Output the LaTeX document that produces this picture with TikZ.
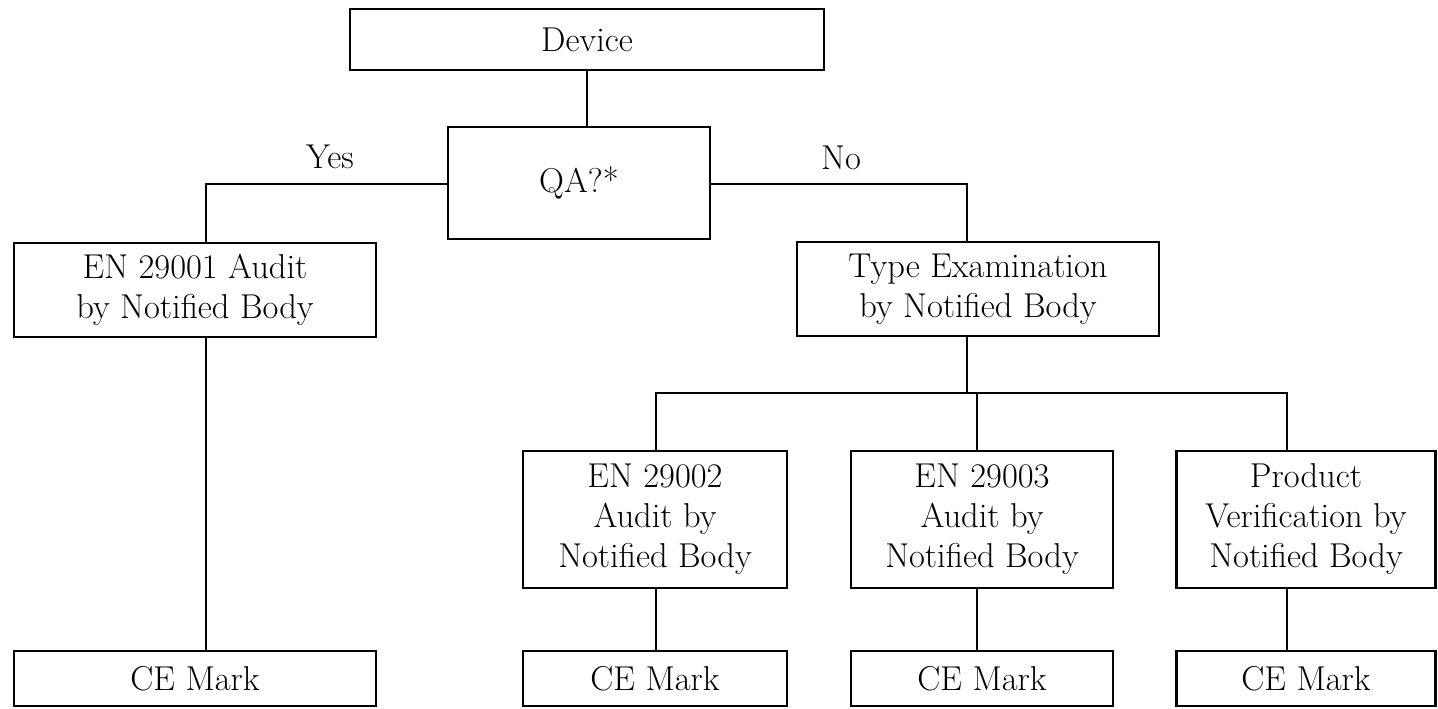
\documentclass[tikz,border=0pt]{standalone}
\usepackage{fontspec}
\begin{document}
\begin{tikzpicture}[x=1pt,y=-1pt,
  box/.style={draw, line width=2.6pt, inner sep=0pt, align=center,
    font=\fontsize{34.5}{40}\selectfont},
  conn/.style={line width=2.6pt},
  lbl/.style={inner sep=0pt, font=\fontsize{34.5}{40}\selectfont}]
\useasboundingbox (0,0) rectangle (1438,709);
% boxes
\node[box, minimum width=474pt, minimum height=61pt] (dev) at (587,39.5) {Device};
\node[box, minimum width=262pt, minimum height=112pt] (qa) at (579,183) {QA?*};
\node[box, minimum width=362pt, minimum height=94pt] (e1) at (195,290) {EN 29001 Audit\\by Notified Body};
\node[box, minimum width=362pt, minimum height=94pt] (t) at (978,289) {Type Examination\\by Notified Body};
\node[box, minimum width=264pt, minimum height=137pt] (e2) at (655,519.5) {EN 29002\\Audit by\\Notified Body};
\node[box, minimum width=262pt, minimum height=137pt] (e3) at (982,519.5) {EN 29003\\Audit by\\Notified Body};
\node[box, minimum width=259pt, minimum height=137pt] (p) at (1306,519.5) {Product\\Verification by\\Notified Body};
\node[box, minimum width=362pt, minimum height=55pt] (c1) at (195,678.5) {CE Mark};
\node[box, minimum width=264pt, minimum height=55pt] (c2) at (655,678.5) {CE Mark};
\node[box, minimum width=262pt, minimum height=55pt] (c3) at (982,678.5) {CE Mark};
\node[box, minimum width=259pt, minimum height=55pt] (c4) at (1306,678.5) {CE Mark};
% labels
\node[lbl] (yes) at (330,157) {Yes};
\node[lbl] (no) at (841,158) {No};
% helper coordinates
\coordinate (yl) at (0,184);
\coordinate (brl) at (0,393);
\coordinate (x1) at (206,0);
\coordinate (xt) at (967,0);
\coordinate (x2) at (656,0);
\coordinate (x3) at (977,0);
\coordinate (xp) at (1287,0);
% connectors
\draw[conn] (dev.south) -- (qa.north -| dev.south);
\draw[conn] (qa.west |- yl) -| (e1.north -| x1);
\draw[conn] (qa.east |- yl) -| (t.north -| xt);
\draw[conn] (t.south -| xt) -- (xt |- brl);
\draw[conn] (e2.north -| x2) -- (x2 |- brl) -- (xp |- brl) -- (p.north -| xp);
\draw[conn] (x3 |- brl) -- (e3.north -| x3);
\draw[conn] (e1.south -| x1) -- (c1.north -| x1);
\draw[conn] (e2.south -| x2) -- (c2.north -| x2);
\draw[conn] (e3.south -| x3) -- (c3.north -| x3);
\draw[conn] (p.south -| xp) -- (c4.north -| xp);
\end{tikzpicture}
\end{document}
